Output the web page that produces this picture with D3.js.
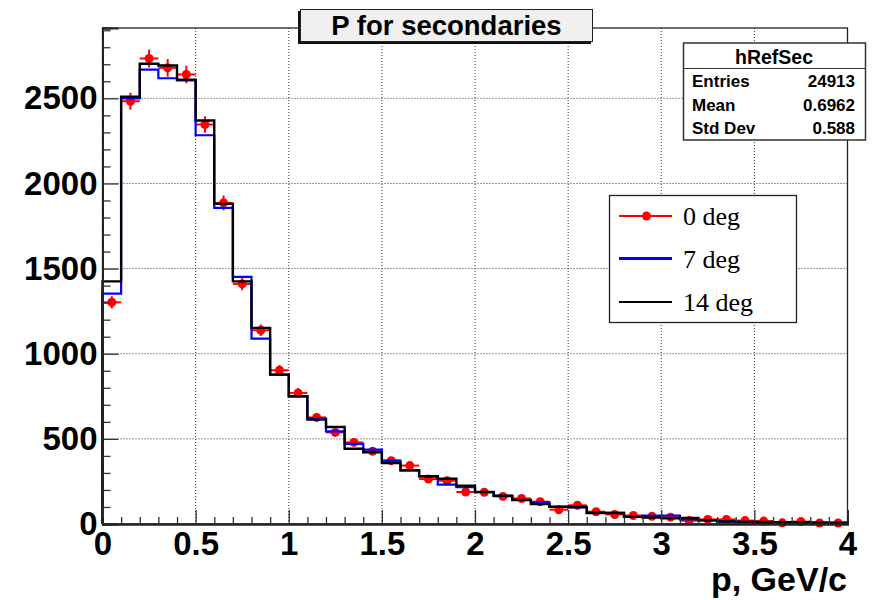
<!DOCTYPE html>
<html><head><meta charset="utf-8">
<script src="https://cdn.jsdelivr.net/npm/d3@7"></script>
<style>body{margin:0;background:#fff}</style>
</head><body>
<svg id="c" width="873" height="600"></svg>
<script>
// ---- data ----
const binEdges = d3.range(0, 4.0001, 0.1).map(v => +v.toFixed(1));
const deg0 = [1302,2483,2734,2679,2640,2346,1886,1410,1138,903,770,626,538,479,427,372,343,264,254,188,
              186,162,150,131,84,110,72,56,50,45,40,20,27,27,20,17,7,14,6,6];
const deg7 = [1353,2500,2669,2618,2605,2283,1857,1451,1089,877,750,619,544,470,437,372,315,280,231,217,
              188,166,141,127,101,98,65,65,42,50,50,27,21,15,12,6,10,10,8,7];
const deg14 = [1425,2509,2703,2693,2610,2370,1880,1425,1152,877,750,613,570,442,421,358,315,280,266,225,
               188,166,141,117,101,100,65,65,42,38,33,35,21,15,12,12,10,10,8,7];
const yMajor = [0,500,1000,1500,2000,2500];
const xMajor = [0,0.5,1,1.5,2,2.5,3,3.5,4];
const xTickLabels = ["0","0.5","1","1.5","2","2.5","3","3.5","4"];
const legendLabels = ["0 deg","7 deg","14 deg"];
const statsTitle = "hRefSec";
const statsRows = [["Entries","24913"],["Mean","0.6962"],["Std Dev","0.588"]];
const title = "P for secondaries";
const xTitle = "p, GeV/c";

// ---- layout ----
const svg = d3.select("#c");
const L = 102.5, R = 847.5, T = 28, B = 524;
const x = d3.scaleLinear().domain([0,4]).range([L,R]);
const y = d3.scaleLinear().domain([0,2913]).range([B,T]);
const sans = "'Liberation Sans', Arial, Helvetica, sans-serif";
const serif = "'Liberation Serif', 'Times New Roman', serif";

// grid
const g = svg.append("g");
g.selectAll(".gx").data(xMajor.slice(1,-1)).join("line")
  .attr("x1", d=>x(d)).attr("x2", d=>x(d)).attr("y1", T).attr("y2", B)
  .attr("stroke","#333").attr("stroke-width",1).attr("stroke-dasharray","1,2");
g.selectAll(".gy").data(yMajor.slice(1)).join("line")
  .attr("x1", L).attr("x2", R).attr("y1", d=>y(d)).attr("y2", d=>y(d))
  .attr("stroke","#333").attr("stroke-width",1).attr("stroke-dasharray","1,2");

// frame
svg.append("rect").attr("x",L).attr("y",T).attr("width",R-L).attr("height",B-T)
  .attr("fill","none").attr("stroke","#222").attr("stroke-width",1.3);

// histograms
function stepPath(vals){
  const p = d3.path();
  p.moveTo(x(0), y(0));
  vals.forEach((v,i)=>{ p.lineTo(x(binEdges[i]), y(v)); p.lineTo(x(binEdges[i+1]), y(v)); });
  p.lineTo(x(4), y(0));
  return p.toString();
}
// red points with error bars
const red = svg.append("g");
deg0.forEach((v,i)=>{
  const cx = x((binEdges[i]+binEdges[i+1])/2), e = Math.sqrt(v);
  red.append("line").attr("x1",x(binEdges[i])).attr("x2",x(binEdges[i+1]))
    .attr("y1",y(v)).attr("y2",y(v)).attr("stroke","#ff0000").attr("stroke-width",2);
  red.append("line").attr("x1",cx).attr("x2",cx)
    .attr("y1",y(v+e)).attr("y2",Math.min(y(v-e),B)).attr("stroke","#ff0000").attr("stroke-width",2);
  red.append("circle").attr("cx",cx).attr("cy",y(v)).attr("r",4.5).attr("fill","#ff0000");
});
svg.append("path").attr("d",stepPath(deg7)).attr("fill","none").attr("stroke","#0000ff").attr("stroke-width",2.2);
svg.append("path").attr("d",stepPath(deg14)).attr("fill","none").attr("stroke","#000").attr("stroke-width",2.4);

// axes
const yMinor = d3.range(0,2901,100).filter(v=>v%500!==0);
const xMinor = d3.range(0,41,1).map(v=>v/10).filter(v=>Math.abs(v*2-Math.round(v*2))>1e-6);
svg.append("g").attr("transform",`translate(${L},0)`)
  .call(d3.axisLeft(y).tickValues(yMajor).tickSize(-16).tickPadding(5).tickFormat(d3.format("d")));
svg.append("g").attr("transform",`translate(${L},0)`)
  .call(d3.axisLeft(y).tickValues(yMinor).tickSize(-8).tickFormat(""));
svg.append("g").attr("transform",`translate(0,${B})`)
  .call(d3.axisBottom(x).tickValues(xMajor).tickSize(-14).tickPadding(8).tickFormat((d,i)=>xTickLabels[i]));
svg.append("g").attr("transform",`translate(0,${B})`)
  .call(d3.axisBottom(x).tickValues(xMinor).tickSize(-7).tickFormat(""));
svg.selectAll(".domain").attr("stroke","#222").attr("stroke-width",2);
svg.selectAll(".tick line").attr("stroke","#333").attr("stroke-width",1.3);
svg.selectAll(".tick text").attr("font-family",sans).attr("font-weight","bold")
  .attr("font-size",33).attr("fill","#000");

// x title
svg.append("text").attr("x",847).attr("y",591).attr("text-anchor","end")
  .attr("font-family",sans).attr("font-weight","bold").attr("font-size",34).text(xTitle);

// title box
svg.append("rect").attr("x",298).attr("y",11).attr("width",293).attr("height",33).attr("fill","#111");
svg.append("rect").attr("x",300.5).attr("y",9.5).attr("width",292).attr("height",32)
  .attr("fill","#f0f0f0").attr("stroke","#222").attr("stroke-width",1);
svg.append("text").attr("x",446.5).attr("y",35).attr("text-anchor","middle")
  .attr("font-family",sans).attr("font-weight","bold").attr("font-size",27.5).text(title);

// stats box
const sb = svg.append("g");
sb.append("rect").attr("x",683.5).attr("y",43).attr("width",182).attr("height",97)
  .attr("fill","#fff").attr("stroke","#333").attr("stroke-width",1.5);
sb.append("line").attr("x1",683.5).attr("x2",865.5).attr("y1",68.5).attr("y2",68.5)
  .attr("stroke","#333").attr("stroke-width",1.2);
sb.append("text").attr("x",774).attr("y",64).attr("text-anchor","middle")
  .attr("font-family",sans).attr("font-weight","bold").attr("font-size",19.5).text(statsTitle);
const rowY = [87, 111, 134];
statsRows.forEach((r,i)=>{
  sb.append("text").attr("x",692).attr("y",rowY[i]).attr("font-family",sans)
    .attr("font-weight","bold").attr("font-size",17).text(r[0]);
  sb.append("text").attr("x",855).attr("y",rowY[i]).attr("text-anchor","end").attr("font-family",sans)
    .attr("font-weight","bold").attr("font-size",17).text(r[1]);
});

// legend
const lg = svg.append("g");
lg.append("rect").attr("x",609.5).attr("y",195.5).attr("width",187).attr("height",127)
  .attr("fill","#fff").attr("stroke","#222").attr("stroke-width",1.3);
const legY = [216, 258.5, 302];
const legCol = ["#ff0000","#0000ff","#000"];
const legW = [2, 3, 2.2];
legendLabels.forEach((t,i)=>{
  lg.append("line").attr("x1",619).attr("x2",672).attr("y1",legY[i]).attr("y2",legY[i])
    .attr("stroke",legCol[i]).attr("stroke-width",legW[i]);
  if(i===0) lg.append("circle").attr("cx",646.5).attr("cy",legY[i]).attr("r",4.5).attr("fill","#ff0000");
  lg.append("text").attr("x",683).attr("y",legY[i]+9).attr("font-family",serif)
    .attr("font-size",26).text(t);
});
</script>
</body></html>
